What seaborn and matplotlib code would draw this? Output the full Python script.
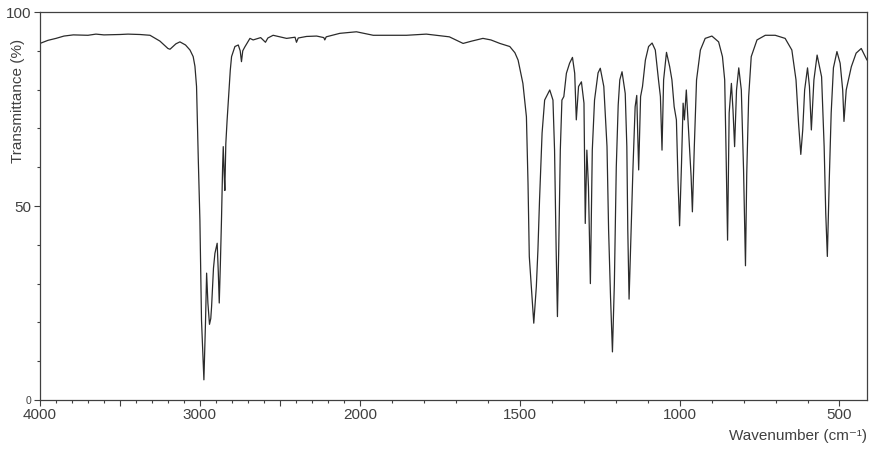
import numpy as np
import pandas as pd
import matplotlib
matplotlib.use('Agg')
import matplotlib.pyplot as plt
import seaborn as sns

# 红外光谱数据
wavenumber = [
    4000, 3950, 3900, 3850, 3792, 3700, 3650, 3600, 3500, 3450, 3375, 3312,
    3250, 3200, 3187, 3150, 3125, 3090, 3062, 3042, 3031, 3021, 3010, 3000,
    2990, 2975, 2965, 2958, 2950, 2940, 2932, 2927, 2915, 2906, 2892, 2885,
    2879, 2872, 2865, 2858, 2854, 2848, 2844, 2838, 2830, 2823, 2810, 2802,
    2781, 2760, 2748, 2740, 2732, 2719, 2687, 2667, 2620, 2590, 2575, 2542,
    2458, 2405, 2396, 2385, 2333, 2270, 2225, 2219, 2210, 2125, 2021, 1958,
    1854, 1792, 1720, 1677, 1650, 1615, 1590, 1562, 1531, 1515, 1505,
    1490, 1479, 1474, 1470, 1463, 1456, 1448, 1443, 1438, 1430, 1422, 1406,
    1396, 1391, 1386, 1382, 1378, 1373, 1368, 1362, 1354, 1344, 1335, 1328,
    1323, 1316, 1307, 1299, 1295, 1290, 1285, 1279, 1273, 1266, 1255, 1248,
    1237, 1227, 1222, 1216, 1210, 1204, 1198, 1192, 1187, 1180, 1170, 1165,
    1162, 1158, 1153, 1146, 1139, 1134, 1128, 1122, 1116, 1107, 1097, 1086,
    1076, 1066, 1060, 1055, 1050, 1041, 1031, 1024, 1017, 1010, 1005, 1000,
    994, 989, 985, 979, 972, 964, 960, 954, 947, 935, 920, 899,
    878, 866, 859, 855, 850, 845, 838, 833, 828, 822, 815, 807,
    800, 794, 790, 784, 776, 758, 732, 701, 670, 649, 636, 628,
    621, 615, 609, 600, 594, 588, 580, 570, 556, 548, 543, 538,
    532, 526, 519, 508, 498, 490, 486, 479, 463, 448, 432, 414,
]
transmittance = [
    91.9, 92.7, 93.2, 93.8, 94.1, 94.0, 94.3, 94.1, 94.2, 94.3, 94.2, 94.0,
    92.5, 90.6, 90.4, 91.8, 92.3, 91.5, 90.2, 88.5, 86.0, 80.8, 61.9, 46.4,
    20.6, 5.2, 20.0, 32.7, 25.0, 19.5, 21.0, 24.0, 34.0, 37.8, 40.4, 33.0,
    25.0, 35.0, 46.4, 60.0, 65.3, 58.0, 54.0, 66.0, 72.0, 76.5, 85.0, 88.5,
    91.1, 91.5, 90.0, 87.2, 90.0, 91.0, 93.2, 92.8, 93.4, 92.2, 93.3, 94.0,
    93.2, 93.5, 92.2, 93.3, 93.7, 93.8, 93.4, 92.8, 93.6, 94.5, 94.9, 94.0,
    94.0, 94.3, 93.6, 91.9, 92.5, 93.2, 92.8, 91.9, 91.1, 89.5, 87.6,
    81.6, 73.0, 55.9, 37.0, 28.4, 19.8, 29.2, 38.7, 51.5, 68.8, 77.3, 79.9,
    77.3, 64.4, 38.7, 21.5, 38.7, 64.4, 77.3, 78.2, 84.2, 86.8, 88.3, 84.2,
    72.2, 80.8, 82.0, 76.5, 45.5, 64.4, 55.0, 30.0, 64.4, 77.3, 84.3, 85.5,
    80.8, 65.3, 43.8, 26.6, 12.4, 30.0, 60.0, 76.0, 82.5, 84.6, 79.0, 65.3,
    43.8, 26.0, 39.5, 59.3, 75.6, 78.5, 59.3, 78.2, 80.8, 87.6, 91.1, 92.0,
    90.2, 82.5, 78.2, 64.4, 82.5, 89.6, 85.9, 82.5, 75.6, 72.2, 56.7, 44.9,
    61.0, 76.5, 72.2, 79.9, 69.6, 57.6, 48.5, 65.3, 82.5, 90.2, 93.2, 93.8,
    92.3, 88.5, 82.5, 65.3, 41.2, 74.0, 81.6, 74.7, 65.3, 79.9, 85.6, 79.9,
    59.3, 34.6, 58.4, 78.2, 88.5, 92.8, 94.0, 94.0, 93.2, 90.2, 82.5, 71.3,
    63.3, 69.6, 79.9, 85.6, 80.8, 69.6, 82.5, 88.9, 83.3, 65.3, 48.1, 37.0,
    56.7, 74.0, 85.6, 89.8, 86.8, 79.9, 71.8, 79.9, 85.9, 89.4, 90.6, 87.6,
]

x_ticks = [4000, 3500, 3000, 2500, 2000, 1500, 1000, 500]
x_ticklabels = ['4000', '', '3000', '', '2000', '1500', '1000', '500']
y_ticks = [0, 50, 100]
y_ticklabels = ['0', '50', '100']

df = pd.DataFrame({'Wavenumber': wavenumber, 'Transmittance': transmittance})

sns.set_theme(style='ticks')
plt.rcParams['font.family'] = ['Liberation Sans', 'DejaVu Sans']
text_color = '#404040'


# 2000 cm-1 以上压缩一半
def fwd(x):
    x = np.asarray(x, dtype=float)
    return np.where(x > 2000, 2000 + (x - 2000) / 2, x)


def inv(x):
    x = np.asarray(x, dtype=float)
    return np.where(x > 2000, 2000 + (x - 2000) * 2, x)


fig = plt.figure(figsize=(8.74, 4.49), dpi=100)
ax = fig.add_axes([40 / 874, 49 / 449, 827 / 874, 388 / 449])

sns.lineplot(data=df, x='Wavenumber', y='Transmittance', ax=ax, sort=False,
             color='#2b2b2b', linewidth=0.9)

ax.set_xscale('function', functions=(fwd, inv))
ax.set_xlim(4000, 414)
ax.set_ylim(0, 100)

ax.set_xticks(x_ticks)
ax.set_xticklabels(x_ticklabels)
ax.set_xticks(np.arange(500, 4000, 100), minor=True)
ax.set_yticks(y_ticks)
ax.set_yticklabels(y_ticklabels)
ax.set_yticks(np.arange(0, 101, 10), minor=True)

ax.tick_params(which='major', length=4, width=0.8, color=text_color,
               labelsize=11, labelcolor=text_color, pad=2)
ax.tick_params(which='minor', length=2.3, width=0.8, color=text_color)
ax.get_yticklabels()[0].set_fontsize(7.5)

for s in ax.spines.values():
    s.set_color(text_color)
    s.set_linewidth(0.9)

ax.set_xlabel('')
ax.set_ylabel('Transmittance (%)', fontsize=11, color=text_color)
ax.yaxis.set_label_coords(-0.018, 0.77)

fig.text(867 / 874, 1 - 436 / 449, 'Wavenumber (cm⁻¹)', ha='right', va='center',
         fontsize=11, color=text_color)

plt.savefig('out.png', dpi=100)
